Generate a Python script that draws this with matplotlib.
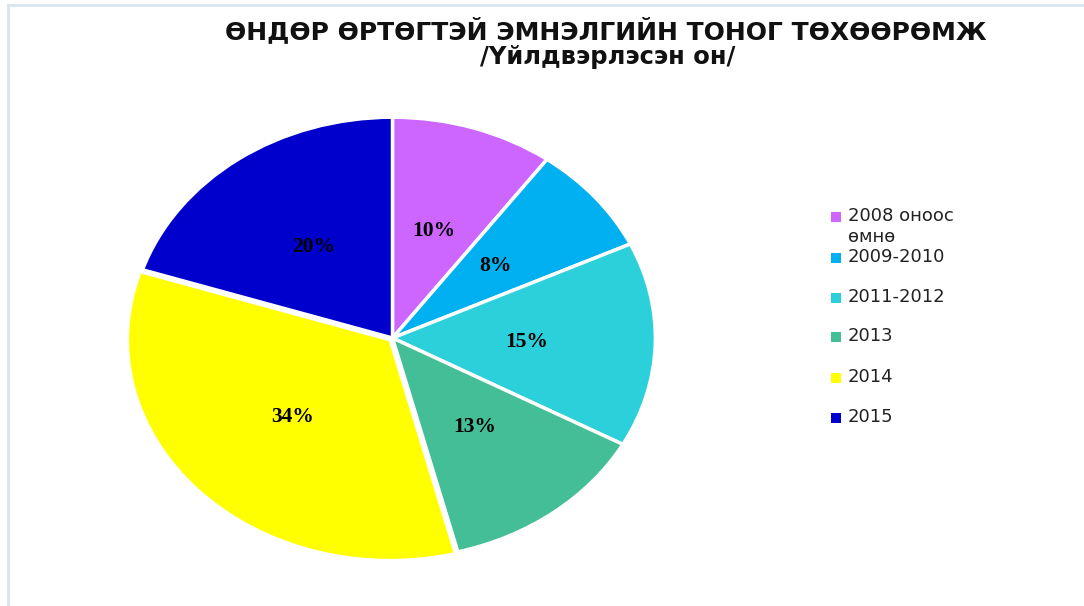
import matplotlib
matplotlib.use("Agg")
import matplotlib.pyplot as plt
from matplotlib.patches import Rectangle
from matplotlib.lines import Line2D

# data
categories = ["2008 оноос өмнө", "2009-2010", "2011-2012", "2013", "2014", "2015"]
legendLabels = ["2008 оноос\nөмнө", "2009-2010", "2011-2012", "2013", "2014", "2015"]
shares = [10, 8, 15, 13, 34, 20]
colors = ["#CC66FF", "#00B0F0", "#2BD0DB", "#43BE96", "#FFFF00", "#0000CC"]

title = "ӨНДӨР ӨРТӨГТЭЙ ЭМНЭЛГИЙН ТОНОГ ТӨХӨӨРӨМЖ"
subtitle = "/Үйлдвэрлэсэн он/"

W, H = 1084, 606
fig = plt.figure(figsize=(W/100, H/100), dpi=100)

# pie axes (stretched -> ellipse)
ax = fig.add_axes([127/W, 1-561/H, 531/W, 446/H])
wedges, texts, autotexts = ax.pie(shares, colors=colors, startangle=90, counterclock=False,
                                  autopct="%d%%", pctdistance=0.51,
                                  explode=[0, 0, 0, 0, 0.012, 0],
                                  wedgeprops=dict(edgecolor="white", linewidth=2.5),
                                  textprops=dict(family="Liberation Serif", weight="bold",
                                                 fontsize=15.5, color="black"))
ax.set_aspect("auto")
ax.set_xlim(-1.01, 1.01)
ax.set_ylim(-1.01, 1.01)
ax.axis("off")

# titles
fig.text(606/W, 1-31/H, title, ha="center", va="center", fontsize=18, weight="bold",
         family="DejaVu Sans", color="#111111")
fig.text(608/W, 1-57/H, subtitle, ha="center", va="center", fontsize=17.5, weight="bold",
         family="DejaVu Sans", color="#111111")

# legend, drawn by hand so the box sits on the first line
legY = [217, 258, 298, 337, 378, 418]
for lab, col, y in zip(legendLabels, colors, legY):
    fig.add_artist(Rectangle((831/W, 1-(y+5)/H), 10/W, 10/H, transform=fig.transFigure,
                             facecolor=col, edgecolor="none"))
    fig.text(848/W, 1-(y-10)/H, lab, ha="left", va="top", fontsize=13,
             family="DejaVu Sans", color="#222222", linespacing=1.2)

# thin frame lines on top and left
fig.add_artist(Line2D([8/W, 1], [1-4.5/H, 1-4.5/H], transform=fig.transFigure,
                      color="#D9E5EE", lw=2))
fig.add_artist(Line2D([8/W, 8/W], [0, 1-4.5/H], transform=fig.transFigure,
                      color="#D9E5EE", lw=2))

fig.savefig("out.png", dpi=100)
